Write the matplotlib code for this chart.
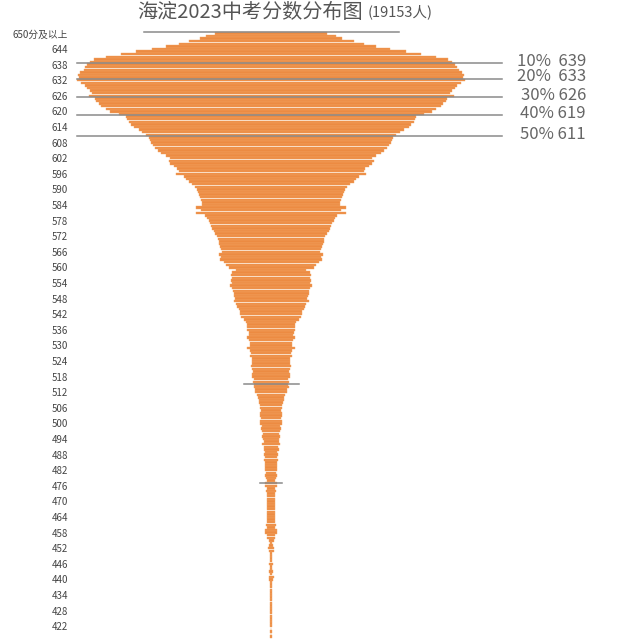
import matplotlib.pyplot as plt
import numpy as np

plt.rcParams['font.family'] = ['Noto Sans CJK SC', 'DejaVu Sans']

title = '海淀2023中考分数分布图'
title_note = '(19153人)'

# scores from 650 (650 and above) down to 418, one bar per score
scores = np.arange(650, 417, -1)
counts = [
    90, 104, 114, 132, 148, 168, 190, 216, 240, 264,   # 650-641
    283, 290, 294, 298, 300, 306, 309, 307, 310, 304,  # 640-631
    298, 294, 290, 286, 292, 282, 280, 275, 272, 264,  # 630-621
    258, 244, 232, 230, 228, 224, 220, 212, 206, 200,  # 620-611
    195, 194, 192, 189, 186, 181, 176, 168, 162, 164,  # 610-601
    162, 156, 150, 148, 152, 140, 136, 132, 126, 122,  # 600-591
    119, 117, 115, 114, 112, 110, 110, 120, 112, 120,  # 590-581
    106, 102, 100, 98, 96, 94, 92, 90, 86, 85,         # 580-571
    84, 83, 82, 80, 78, 83, 80, 82, 76, 72,            # 570-561
    68, 56, 62, 64, 62, 64, 63, 66, 62, 61,            # 560-551
    60, 59, 58, 60, 56, 54, 52, 50, 49, 48,            # 550-541
    44, 40, 38, 38, 38, 36, 35, 38, 35, 34,            # 540-531
    34, 38, 34, 32, 33, 31, 31, 30, 32, 30,            # 530-521
    29, 30, 30, 27, 29, 27, 28, 26, 26, 22,            # 520-511
    21, 20, 19, 18, 18, 16, 18, 17, 16, 18,            # 510-501
    17, 14, 16, 14, 13, 14, 13, 12, 14, 11,            # 500-491
    12, 10, 11, 10, 11, 9, 10, 10, 10, 8,              # 490-481
    9, 8, 7, 9, 9, 7, 8, 6, 7, 6,                      # 480-471
    6, 6, 7, 6, 6, 7, 6, 6, 7, 8,                      # 470-461
    6, 9, 10, 7, 6, 4, 2, 3, 5, 4,                     # 460-451
    2, 2, 2, 2, 3, 2, 2, 3, 2, 4,                      # 450-441
    3, 2, 2, 2, 2, 2, 2, 2, 2, 2,                      # 440-431
    2, 2, 2, 2, 2, 2, 1, 2, 1, 0,                      # 430-421
    1, 0, 1,                                           # 420-418
]

tick_scores = np.arange(650, 420, -6)
tick_labels = ['650分及以上'] + [str(v) for v in tick_scores[1:]]

pct_labels = ['10%  639', '20%  633', '30% 626', '40% 619', '50% 611']
pct_scores = [639, 633, 626, 619, 611]

# other grey marker lines (score, half length in counts)
mark_scores = [650.6, 515, 477]
mark_half = [102, 22, 9]

fig = plt.figure(figsize=(6.4, 6.4), dpi=100)
ax = fig.add_axes([75 / 640, 0, 565 / 640, 1])

px = 1.25          # pixels per person
center = 271 - 75  # centre of bars inside the axes, px
ax.set_xlim(-center / px, (565 - center) / px)
ax.set_ylim(416.7, 662.85)

c = np.array(counts)
ax.barh(scores, c, left=-c / 2, height=0.95, color='#EC8B42',
        edgecolor='#F2A464', linewidth=0.3)

# percentile lines + labels
for lab, sc in zip(pct_labels, pct_scores):
    ax.plot([(77 - 271) / px, (502 - 271) / px], [sc - 0.4, sc - 0.4], color='#8a8a8a', lw=1.1)
    ax.text((586 - 271) / px, sc + 0.3, lab, ha='right', va='center',
            fontsize=12, color='#666666')

for sc, h in zip(mark_scores, mark_half):
    ax.plot([-h, h], [sc, sc], color='#8a8a8a', lw=1.1)

ax.set_yticks(tick_scores)
ax.set_yticklabels(tick_labels, fontsize=7, color='#444444')
ax.tick_params(axis='y', length=0, pad=5)
ax.set_xticks([])
for sp in ax.spines.values():
    sp.set_visible(False)

fig.text(363 / 640, 0.981, title, ha='right', va='center', fontsize=14.5, color='#555555')
fig.text(368 / 640, 0.981, title_note, ha='left', va='center', fontsize=10.5, color='#555555')

fig.savefig('out.png', dpi=100)
